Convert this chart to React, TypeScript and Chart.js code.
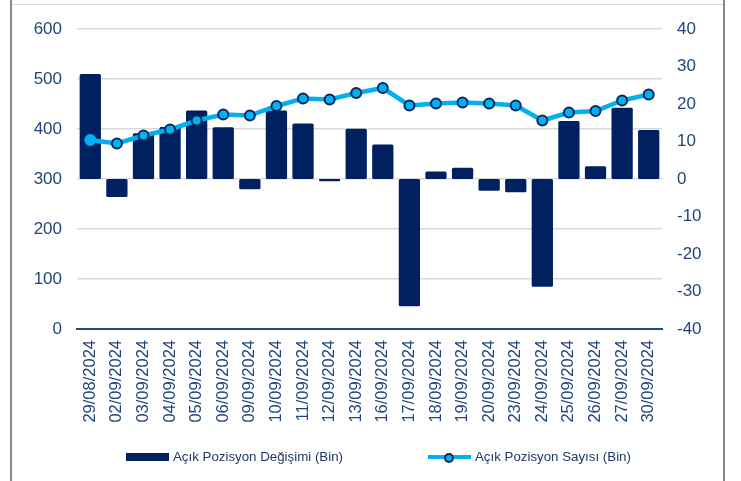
import React, { useEffect, useRef } from "react";
import { Chart, registerables } from "chart.js";

Chart.register(...registerables);

const categories = [
  "29/08/2024", "02/09/2024", "03/09/2024", "04/09/2024", "05/09/2024", "06/09/2024",
  "09/09/2024", "10/09/2024", "11/09/2024", "12/09/2024", "13/09/2024", "16/09/2024",
  "17/09/2024", "18/09/2024", "19/09/2024", "20/09/2024", "23/09/2024", "24/09/2024",
  "25/09/2024", "26/09/2024", "27/09/2024", "30/09/2024",
];

// Açık Pozisyon Değişimi (Bin) — right axis
const changeValues = [
  28.0, -4.8, 12.2, 13.9, 18.3, 13.8, -2.7, 18.3, 14.8, -0.6, 13.4, 9.2,
  -33.9, 2.0, 3.0, -3.1, -3.5, -28.7, 15.5, 3.4, 19.0, 13.1,
];

// Açık Pozisyon Sayısı (Bin) — left axis
const countValues = [
  378, 371, 387, 399, 417, 429, 427, 446, 461, 459, 472, 482,
  447, 451, 453, 451, 447, 417, 433, 436, 457, 469,
];

const leftTicks = [0, 100, 200, 300, 400, 500, 600];
const rightTicks = [-40, -30, -20, -10, 0, 10, 20, 30, 40];

const barLabel = "Açık Pozisyon Değişimi (Bin)";
const lineLabel = "Açık Pozisyon Sayısı (Bin)";

const NAVY = "#002060";
const CYAN = "#00B0F0";
const MARKER_BORDER = "#0B2A5B";
const TICK_COLOR = "#1F4579";
const FONT = "'Liberation Sans', Arial, sans-serif";

export default function App() {
  const canvasRef = useRef<HTMLCanvasElement | null>(null);

  useEffect(() => {
    if (!canvasRef.current) return;
    const chart = new Chart(canvasRef.current, {
      type: "bar",
      data: {
        labels: categories,
        datasets: [
          {
            type: "line",
            label: lineLabel,
            data: countValues,
            yAxisID: "y",
            borderColor: CYAN,
            borderWidth: 4.5,
            backgroundColor: CYAN,
            pointBackgroundColor: CYAN,
            pointBorderColor: countValues.map((_, i) => (i === 0 ? CYAN : MARKER_BORDER)),
            pointBorderWidth: 2,
            pointRadius: 5,
            tension: 0,
            order: 0,
          },
          {
            type: "bar",
            label: barLabel,
            data: changeValues,
            yAxisID: "y1",
            backgroundColor: NAVY,
            borderRadius: 1.5,
            borderSkipped: false,
            categoryPercentage: 1,
            barPercentage: 0.8,
            order: 1,
          },
        ],
      },
      options: {
        responsive: false,
        animation: false,
        maintainAspectRatio: false,
        layout: { padding: { left: 0, right: 0, top: 29, bottom: 52 } },
        plugins: {
          legend: { display: false },
          tooltip: { enabled: false },
        },
        scales: {
          x: {
            grid: { display: false, drawTicks: false },
            border: { display: true, color: "#1F4E79", width: 2 },
            ticks: {
              minRotation: 90,
              maxRotation: 90,
              autoSkip: false,
              padding: 11,
              color: TICK_COLOR,
              font: { family: FONT, size: 16.5 },
            },
            afterFit: (s: any) => {
              s.height = 100;
            },
          },
          y: {
            position: "left",
            min: 0,
            max: 600,
            afterBuildTicks: (s: any) => {
              s.ticks = leftTicks.map((v) => ({ value: v }));
            },
            grid: {
              color: (ctx: any) => (ctx.tick && ctx.tick.value === 0 ? "rgba(0,0,0,0)" : "#D9D9D9"),
              lineWidth: 1.5,
              drawTicks: false,
            },
            border: { display: false },
            ticks: {
              padding: 15,
              color: TICK_COLOR,
              font: { family: FONT, size: 17 },
            },
            afterFit: (s: any) => {
              s.width = 77;
            },
          },
          y1: {
            position: "right",
            min: -40,
            max: 40,
            afterBuildTicks: (s: any) => {
              s.ticks = rightTicks.map((v) => ({ value: v }));
            },
            grid: { display: false, drawTicks: false },
            border: { display: false },
            ticks: {
              padding: 15,
              color: TICK_COLOR,
              font: { family: FONT, size: 17 },
            },
            afterFit: (s: any) => {
              s.width = 79;
            },
          },
        },
      },
    });
    return () => chart.destroy();
  }, []);

  const legendText: React.CSSProperties = {
    position: "absolute",
    top: 448,
    fontFamily: FONT,
    fontSize: 13.3,
    color: "#1F3864",
    lineHeight: "17px",
    whiteSpace: "nowrap",
  };

  return (
    <div
      style={{
        position: "fixed",
        left: 0,
        top: 0,
        width: 741,
        height: 481,
        background: "#fff",
        overflow: "hidden",
      }}
    >
      <canvas ref={canvasRef} width={741} height={481} style={{ position: "absolute", left: 0, top: 0 }} />
      {/* frame */}
      <div style={{ position: "absolute", left: 10, top: 0, width: 2, height: 481, background: "#8A8A8A" }} />
      <div style={{ position: "absolute", left: 723, top: 0, width: 2, height: 481, background: "#8A8A8A" }} />
      <div style={{ position: "absolute", left: 12, top: 4, width: 711, height: 1, background: "#DADADA" }} />
      {/* legend */}
      <div style={{ position: "absolute", left: 126, top: 453, width: 43, height: 8, background: NAVY }} />
      <div style={{ ...legendText, left: 173 }}>{barLabel}</div>
      <div style={{ position: "absolute", left: 428, top: 455, width: 43, height: 4, background: CYAN }} />
      <div
        style={{
          position: "absolute",
          left: 444,
          top: 453,
          width: 6,
          height: 6,
          borderRadius: "50%",
          background: CYAN,
          border: `2px solid ${MARKER_BORDER}`,
        }}
      />
      <div style={{ ...legendText, left: 475 }}>{lineLabel}</div>
    </div>
  );
}
